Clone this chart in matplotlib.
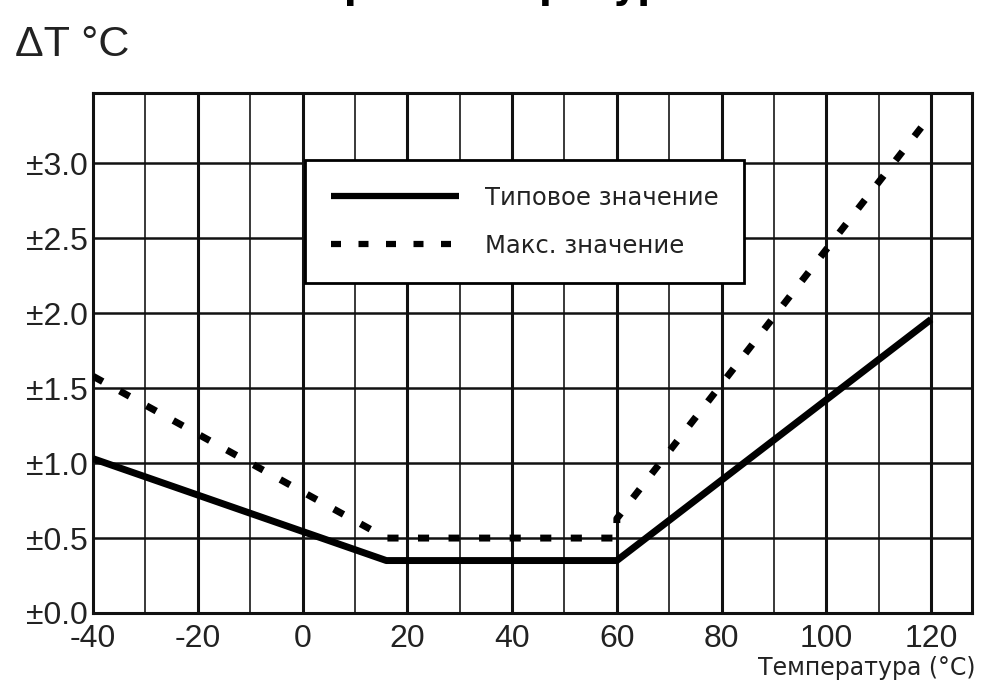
import numpy as np
import matplotlib
matplotlib.use("Agg")
import matplotlib.pyplot as plt

# values
typ_x = [-40, 16, 60, 120]
typ_y = [1.03, 0.35, 0.35, 1.96]
max_x = [-40, 16, 60, 60, 119]
max_y = [1.58, 0.50, 0.50, 0.63, 3.28]

x_ticks = [-40, -20, 0, 20, 40, 60, 80, 100, 120]
x_labels = ["-40", "-20", "0", "20", "40", "60", "80", "100", "120"]
y_ticks = [0.0, 0.5, 1.0, 1.5, 2.0, 2.5, 3.0]
y_labels = ["±0.0", "±0.5", "±1.0", "±1.5", "±2.0", "±2.5", "±3.0"]
minor_x = [-30, -10, 10, 30, 50, 70, 90, 110]

label_typ = "Типовое значение"
label_max = "Макс. значение"

fig = plt.figure(figsize=(9.82, 6.98), dpi=100)
ax = fig.add_axes([93/982, 1-613/698, (972-93)/982, (613-93)/698])

ax.set_xlim(-40, 127.8)
ax.set_ylim(0, 3.47)

# grid
for xv in minor_x:
    ax.axvline(xv, color="#2a2a2a", lw=1.3, zorder=1)
for xv in x_ticks[1:]:
    ax.axvline(xv, color="#111111", lw=2.2, zorder=1)
for yv in y_ticks[1:]:
    ax.axhline(yv, color="#111111", lw=1.8, zorder=1)

ax.plot(typ_x, typ_y, color="black", lw=5, solid_capstyle="butt",
        label=label_typ, zorder=3)
ax.plot(max_x, max_y, color="black", lw=5, dashes=(1.6, 2.8),
        label=label_max, zorder=3)

for s in ax.spines.values():
    s.set_linewidth(2.2)
    s.set_color("#111111")

ax.set_xticks(x_ticks)
ax.set_xticklabels(x_labels, family="Liberation Sans", fontsize=23, color="#222222")
ax.set_yticks(y_ticks)
ax.set_yticklabels(y_labels, family="Liberation Sans", fontsize=23, color="#222222")
ax.tick_params(length=0, pad=4)
ax.tick_params(axis="x", pad=8)

leg = ax.legend(loc="upper left", bbox_to_anchor=(305/982, 1-160/698),
                bbox_transform=fig.transFigure, fontsize=17.5,
                handlelength=5.3, handletextpad=1.05, labelspacing=1.0,
                borderpad=1.05, borderaxespad=0, fancybox=False,
                framealpha=1, edgecolor="black")
leg.get_frame().set_linewidth(2)
leg.set_zorder(5)
for h in leg.get_lines():
    h.set_linewidth(4.5)
for t in leg.get_texts():
    t.set_color("#222222")

fig.text(15/982, 1-45/698, "ΔT °C", family="Liberation Sans", fontsize=31,
         ha="left", va="center", color="#222222")
fig.text(975/982, 1-668/698, "Температура (°C)", family="DejaVu Sans",
         fontsize=17, ha="right", va="center", color="#222222")
# title cut off at the very top, as in the reference (only descenders show)
fig.text(318/982, 1.003, "при температуре", family="DejaVu Sans",
         fontsize=27, fontweight="bold", ha="left", va="baseline")

fig.savefig("out.png", dpi=100)
